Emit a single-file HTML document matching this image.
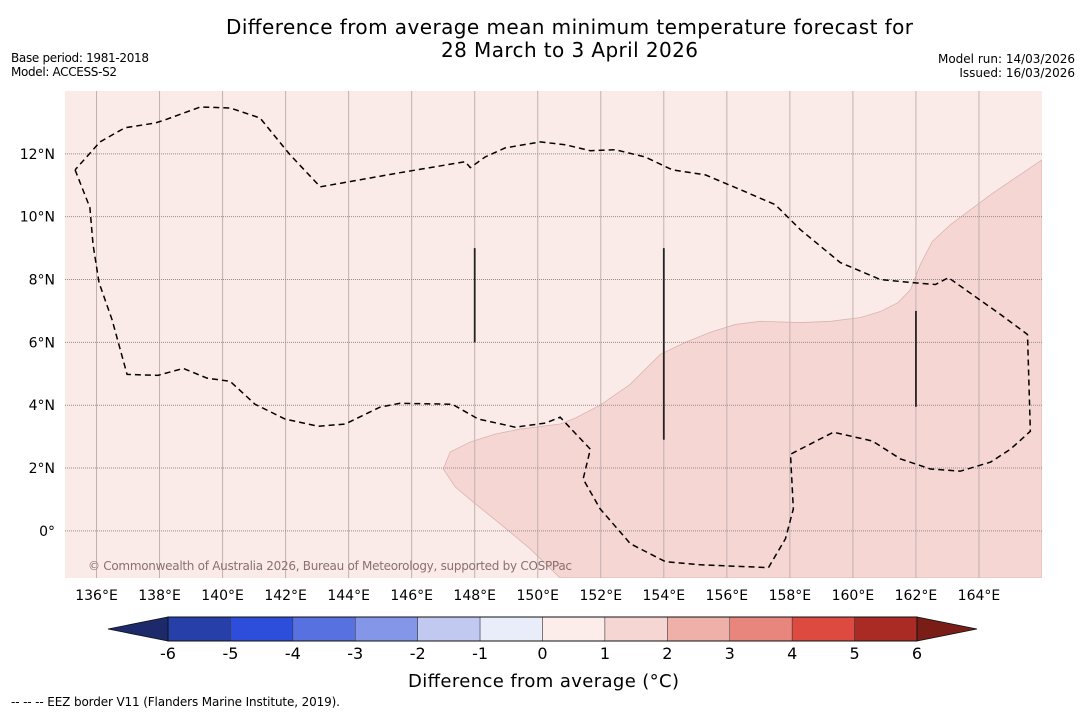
<!DOCTYPE html>
<html><head><meta charset="utf-8"><style>
body{margin:0;background:#fff;font-family:"Liberation Sans","DejaVu Sans",sans-serif;}
svg text{font-family:"DejaVu Sans","Liberation Sans",sans-serif;}
</style></head><body>
<svg id="c" width="1085" height="713" xmlns="http://www.w3.org/2000/svg">
<text x="226" y="34" font-size="20" textLength="687">Difference from average mean minimum temperature forecast for</text>
<text x="441" y="57" font-size="20" textLength="257">28 March to 3 April 2026</text>
<text x="11" y="62" font-size="12" textLength="138">Base period: 1981-2018</text>
<text x="11" y="76" font-size="12" textLength="106">Model: ACCESS-S2</text>
<text x="1075" y="63" font-size="12" text-anchor="end">Model run: 14/03/2026</text>
<text x="1075" y="77" font-size="12" text-anchor="end">Issued: 16/03/2026</text>
<g id="map"></g>
<g id="cbar"></g>
<text x="408" y="687" font-size="18" textLength="271">Difference from average (°C)</text>
<text x="11" y="706" font-size="12" textLength="329">--  --  -- EEZ border V11 (Flanders Marine Institute, 2019).</text>
</svg>
<script>
const lonTicks=[136,138,140,142,144,146,148,150,152,154,156,158,160,162,164];
const latTicks=[0,2,4,6,8,10,12];
const eezBorder=[[135.32,11.49],[135.79,10.29],[135.89,9.11],[136.08,7.90],[136.49,6.73],[136.97,4.98],[137.95,4.95],[138.75,5.17],[139.51,4.86],[140.24,4.76],[141.03,4.03],[141.98,3.56],[143.03,3.33],[143.89,3.40],[145.0,3.94],[145.63,4.06],[147.29,4.03],[148.11,3.56],[149.29,3.30],[150.24,3.43],[150.71,3.62],[151.13,3.17],[151.67,2.60],[151.44,1.65],[151.98,0.70],[152.94,-0.41],[154.05,-0.98],[155.16,-1.08],[157.32,-1.17],[157.86,-0.25],[158.11,0.70],[158.02,2.44],[158.33,2.60],[159.38,3.14],[160.62,2.86],[161.51,2.29],[162.46,1.97],[163.41,1.90],[164.37,2.19],[165.0,2.60],[165.63,3.17],[165.54,6.25],[164.68,6.89],[163.03,8.06],[162.62,7.84],[161.89,7.90],[160.87,8.0],[159.60,8.54],[158.33,9.59],[157.54,10.38],[156.43,10.86],[155.32,11.33],[154.27,11.49],[153.41,11.90],[152.46,12.13],[151.67,12.10],[150.87,12.29],[150.08,12.38],[148.97,12.19],[148.33,11.90],[147.86,11.56],[147.70,11.75],[145.63,11.40],[143.10,10.95],[142.14,11.97],[141.19,13.14],[140.24,13.46],[139.29,13.49],[138.17,13.08],[137.86,12.98],[136.90,12.83],[136.11,12.38],[135.32,11.49]];
const warmRegion=[[147.0,1.97],[147.22,2.51],[147.86,2.83],[148.65,3.08],[149.44,3.24],[150.71,3.40],[151.19,3.59],[151.98,4.0],[152.94,4.67],[153.89,5.62],[154.68,6.0],[155.48,6.32],[156.27,6.57],[157.06,6.67],[158.33,6.63],[159.29,6.67],[160.24,6.79],[160.87,6.98],[161.44,7.27],[161.83,7.68],[162.14,8.48],[162.52,9.21],[163.10,9.75],[164.37,10.70],[166.0,11.81],[166.0,-1.5],[150.71,-1.5],[149.76,-0.57],[148.81,0.22],[148.02,0.86],[147.38,1.40]];
const reefLines=[[148,9,6],[154,9,2.9],[162,7,3.95]];
const cbarLevels=[-6,-5,-4,-3,-2,-1,0,1,2,3,4,5,6];
const cbarColors=['#263fa9','#2d4edb','#5871e0','#8496e8','#c1c9f1','#e9ecf9','#fcecea','#f5d6d3','#eeb0a9','#e8857d','#dc4a40','#a92b24'];

const NS='http://www.w3.org/2000/svg';
const X0=65,X1=1042,Y0=91,Y1=578,LON0=135,LON1=166,LAT0=-1.5,LAT1=14;
const px=l=>X0+(l-LON0)/(LON1-LON0)*(X1-X0);
const py=l=>Y1-(l-LAT0)/(LAT1-LAT0)*(Y1-Y0);
function mk(p,tag,a){const e=document.createElementNS(NS,tag);for(const k in a)e.setAttribute(k,a[k]);p.appendChild(e);return e;}
const map=document.getElementById('map');
const bg=mk(map,'rect',{x:X0,y:Y0,width:X1-X0,height:Y1-Y0,fill:'#fbebe8'});


const cp=mk(map,'clipPath',{id:'clip'});mk(cp,'rect',{x:X0,y:Y0,width:X1-X0,height:Y1-Y0});
const g=mk(map,'g',{'clip-path':'url(#clip)'});
const wr=mk(g,'polygon',{points:warmRegion.map(p=>px(p[0])+','+py(p[1])).join(' '),fill:'#f5d6d3',stroke:'#d9b4b0','stroke-width':0.8});


lonTicks.forEach(l=>{
 const ln=mk(g,'line',{x1:px(l),x2:px(l),y1:Y0,y2:Y1,stroke:'#c0b0b0','stroke-width':1});
 
 
 const t=mk(map,'text',{x:px(l),y:600,'font-size':14,'text-anchor':'middle'});t.textContent=l+'°E';
 
 
});
latTicks.forEach(l=>{
 const ln=mk(g,'line',{x1:X0,x2:X1,y1:py(l),y2:py(l),stroke:'#9a8a8a','stroke-width':1,'stroke-dasharray':'1,1'});
 
 
 const t=mk(map,'text',{x:55,y:py(l)+5,'font-size':14,'text-anchor':'end'});t.textContent=l===0?'0°':l+'°N';
 
 
});
const eez=mk(g,'polyline',{points:eezBorder.map(p=>px(p[0])+','+py(p[1])).join(' '),fill:'none',stroke:'#000','stroke-width':1.5,'stroke-dasharray':'6,4'});


reefLines.forEach(r=>{
 const ln=mk(g,'line',{x1:px(r[0]),x2:px(r[0]),y1:py(r[1]),y2:py(r[2]),stroke:'#222','stroke-width':1.8});
 
 
});
const cr=mk(map,'text',{x:88,y:570,'font-size':12,fill:'#8a7070',textLength:484});cr.textContent='© Commonwealth of Australia 2026, Bureau of Meteorology, supported by COSPPac';



const cb=document.getElementById('cbar');
const C0=168,C1=917,CY=617,CH=24;
const cx=v=>C0+(v+6)/12*(C1-C0);
cbarColors.forEach((c,i)=>{
 const r=mk(cb,'rect',{x:cx(cbarLevels[i]),y:CY,width:cx(cbarLevels[i+1])-cx(cbarLevels[i]),height:CH,fill:c,stroke:'#333','stroke-width':0.5});
 
 
});
const lt=mk(cb,'polygon',{points:`${C0},${CY} ${C0},${CY+CH} 108,${CY+CH/2}`,fill:'#1c2a6b',stroke:'#111','stroke-width':0.8});


const rt=mk(cb,'polygon',{points:`${C1},${CY} ${C1},${CY+CH} 977,${CY+CH/2}`,fill:'#7a1d17',stroke:'#111','stroke-width':0.8});


mk(cb,'rect',{x:C0,y:CY,width:C1-C0,height:CH,fill:'none',stroke:'#111','stroke-width':1});
cbarLevels.forEach(v=>{
 const t=mk(cb,'text',{x:cx(v),y:659,'font-size':16,'text-anchor':'middle'});t.textContent=v;
 
 
});
</script>
</body></html>
